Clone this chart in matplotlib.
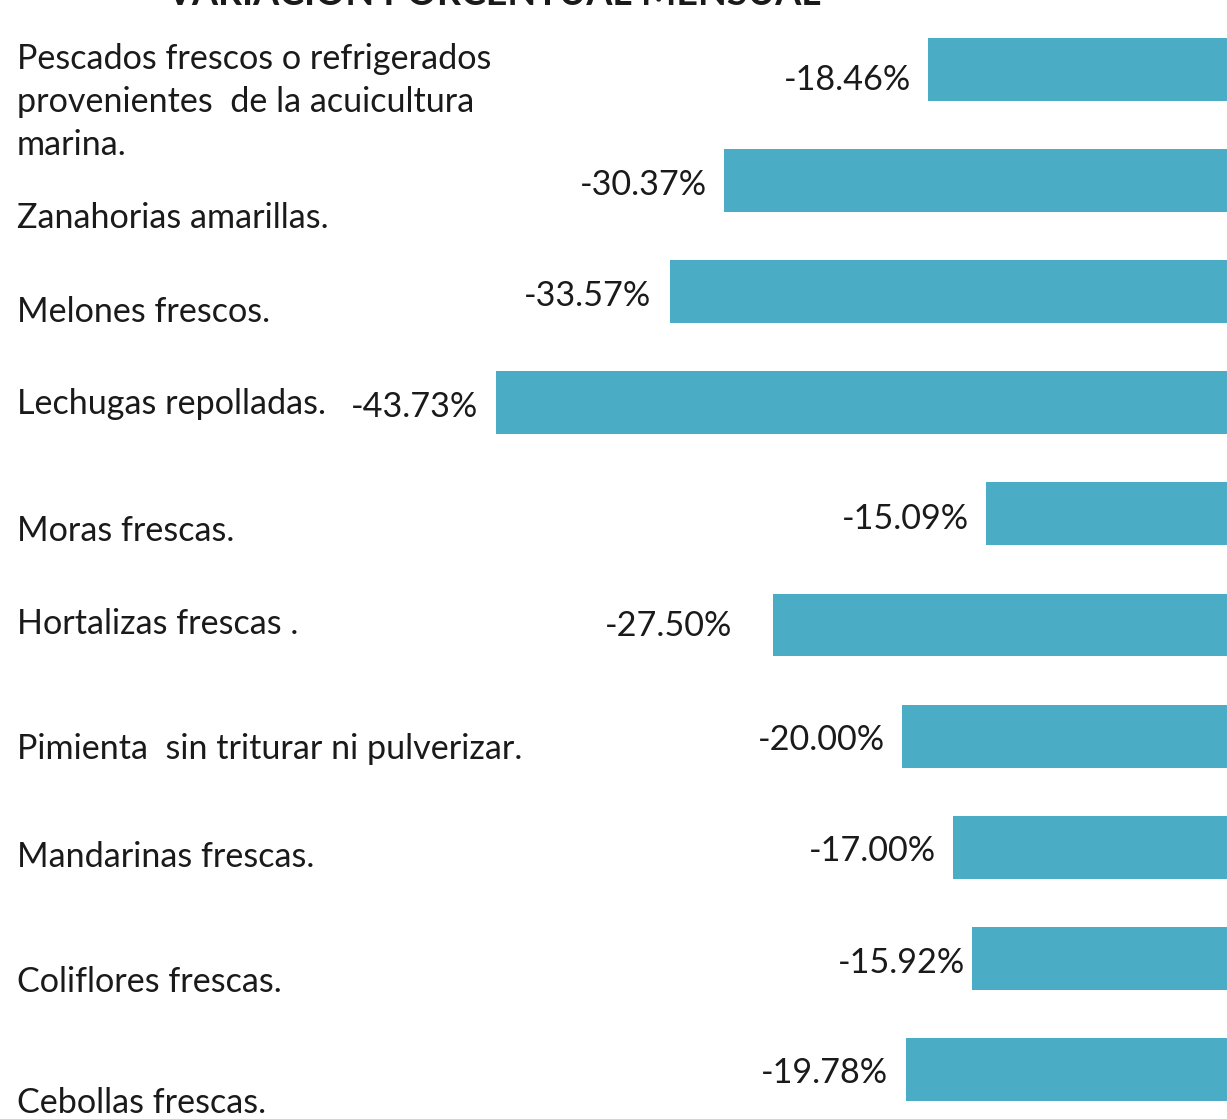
import matplotlib.pyplot as plt
import matplotlib.transforms as mtransforms

# datos
productos = ["Pescados frescos o refrigerados\nprovenientes  de la acuicultura\nmarina.",
             "Zanahorias amarillas.",
             "Melones frescos.",
             "Lechugas repolladas.",
             "Moras frescas.",
             "Hortalizas frescas .",
             "Pimienta  sin triturar ni pulverizar.",
             "Mandarinas frescas.",
             "Coliflores frescas.",
             "Cebollas frescas."]
variacion = [-18.46, -30.37, -33.57, -43.73, -15.09, -27.50, -20.00, -17.00, -15.92, -19.78]
titulo = "VARIACIÓN PORCENTUAL MENSUAL"

# desplazamiento vertical de las etiquetas (en unidades de barra)
desp_etiq = [0.29, 0.34, 0.18, 0.01, 0.15, -0.01, 0.12, 0.09, 0.21, 0.30]
# separacion de los valores respecto a la barra (px)
sep_x = [17, 17, 18, 18, 17, 41, 17, 17, 6, 18]
sep_y = [11, 4, 4, 4, 5, 1, 4, 4, 5, 4]

W, H = 1227, 1119
fig = plt.figure(figsize=(W/100, H/100), dpi=100)
ax = fig.add_axes([0, 0, 1, 1])

k = 17.11          # px por punto porcentual
x0 = 1244          # px donde esta el cero
paso = 111.1       # px entre barras
y0 = 69.5          # centro de la primera barra

n = len(variacion)
pos = list(range(n))
ax.barh(pos, variacion, height=0.567, color="#4BACC6")
ax.set_xlim(-x0/k, (W - x0)/k)
ax.set_ylim((H - y0)/paso, -y0/paso)
ax.axis("off")

fuente = "Lato"
tam = 24.6
for i in range(n):
    ax.annotate(f"{variacion[i]:.2f}%", (variacion[i], i), xytext=(-sep_x[i], -sep_y[i]),
                textcoords="offset pixels", ha="right", va="center",
                fontsize=tam, family=fuente, color="#1a1a1a")

trans = mtransforms.blended_transform_factory(fig.transFigure, ax.transData)
for i in range(n):
    ax.text(17/W, i + desp_etiq[i], productos[i], transform=trans, ha="left", va="center",
            fontsize=tam, family=fuente, color="#1a1a1a", linespacing=1.42)

fig.text(494/W, 1 - 5/H, titulo, ha="center", va="baseline", fontsize=27,
         fontweight="bold", family=fuente, color="#1a1a1a")

fig.savefig("out.png", dpi=100)
